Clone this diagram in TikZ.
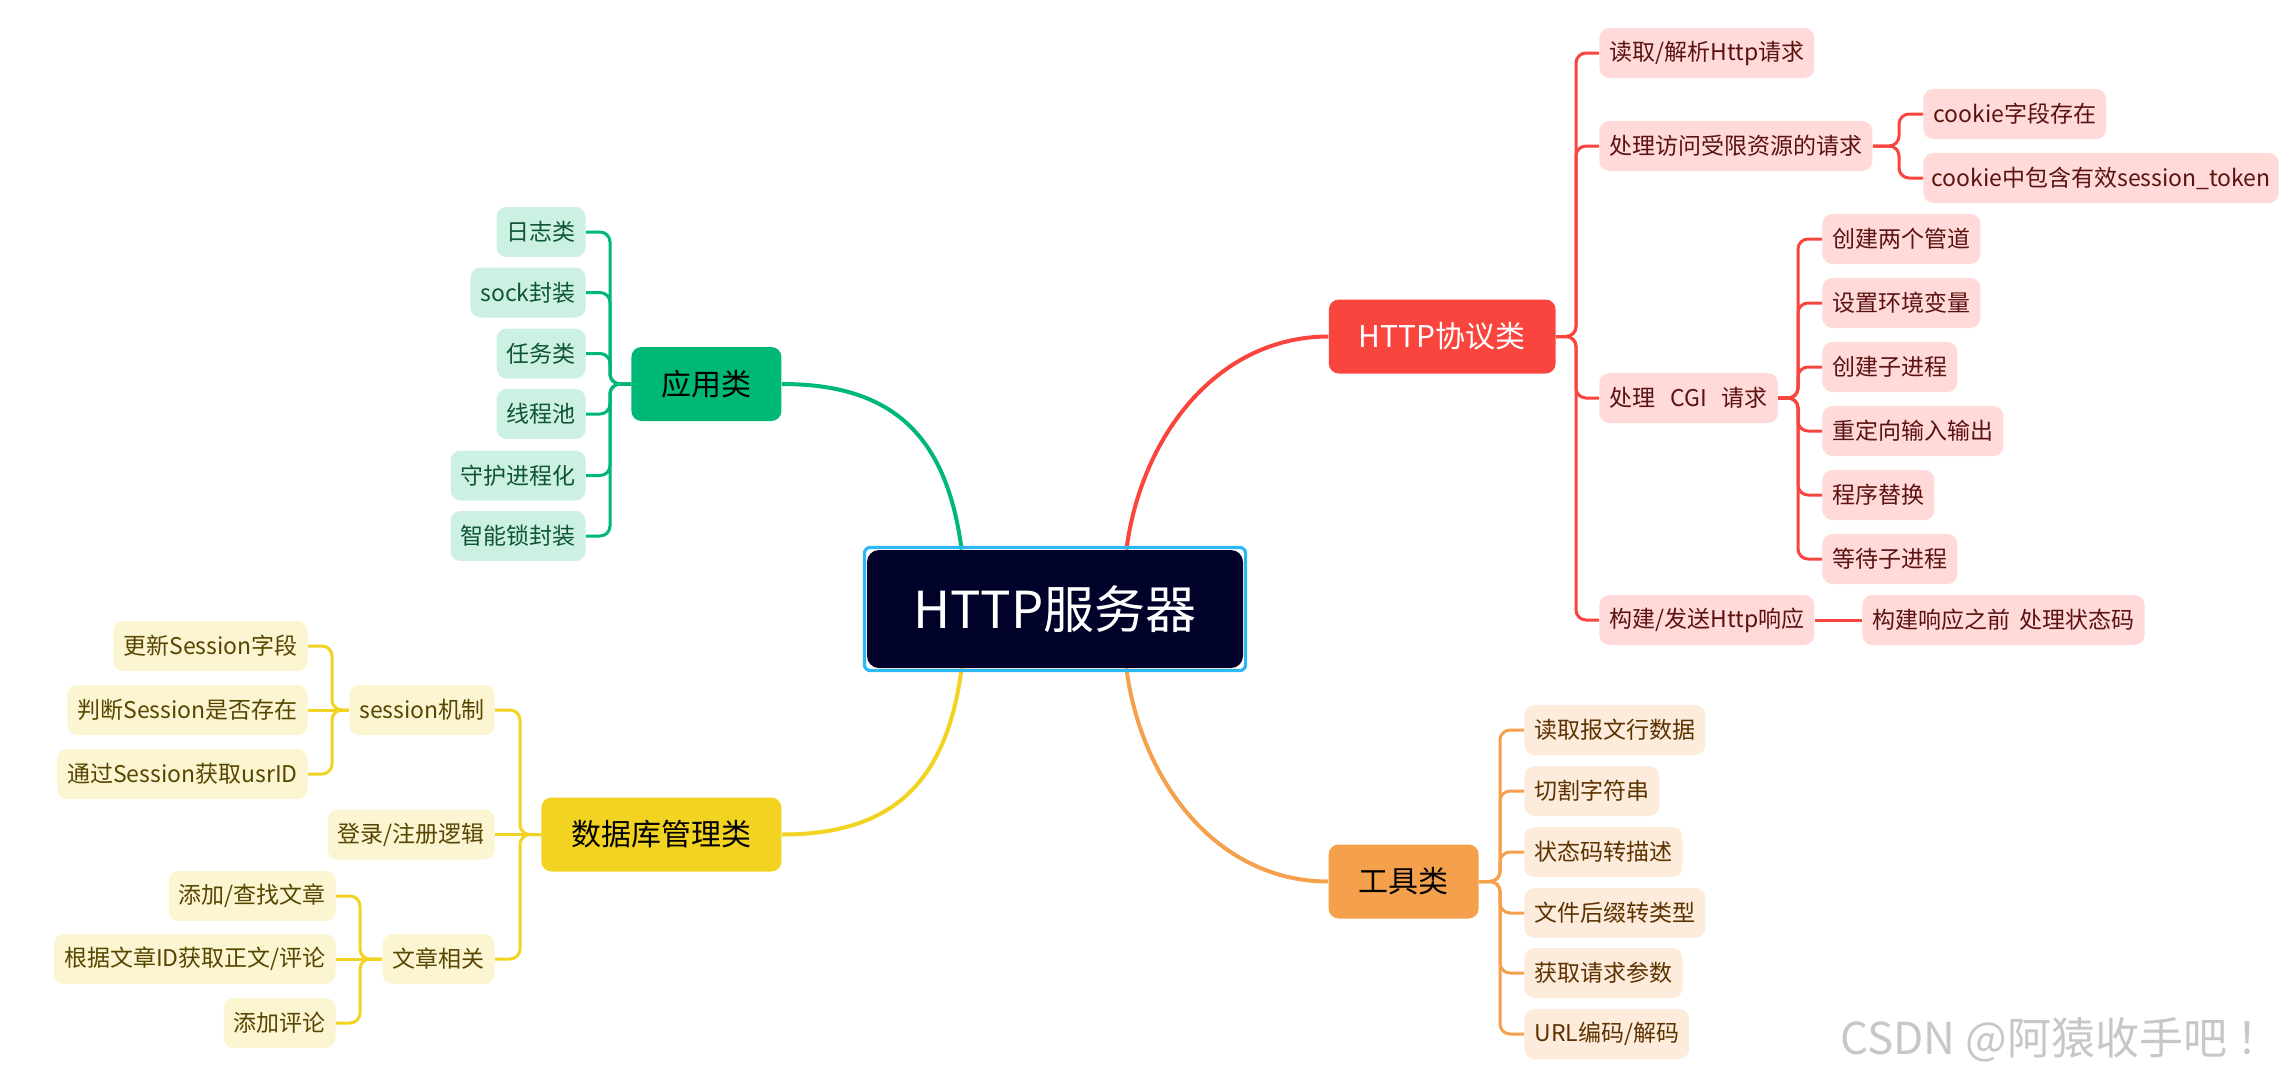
\documentclass[tikz,border=0pt]{standalone}
\usepackage{fontspec}
\setmainfont{Noto Sans CJK SC}
\usetikzlibrary{calc,fit,backgrounds}
\definecolor{gmain}{HTML}{00B876}
\definecolor{gleaf}{HTML}{CCF1E3}
\definecolor{gtext}{HTML}{0E5535}
\definecolor{rmain}{HTML}{FA443E}
\definecolor{rleaf}{HTML}{FFDAD8}
\definecolor{rtext}{HTML}{5B1210}
\definecolor{ymain}{HTML}{F2D321}
\definecolor{yleaf}{HTML}{FCF5D2}
\definecolor{ytext}{HTML}{574600}
\definecolor{omain}{HTML}{F5A04C}
\definecolor{oleaf}{HTML}{FDEBDB}
\definecolor{otext}{HTML}{5C3300}
\definecolor{navy}{HTML}{00022A}
\definecolor{rootborder}{HTML}{2DB8F5}
\begin{document}
\begin{tikzpicture}[x=0.5pt,y=-0.5pt,
  branchbox/.style={rounded corners=5pt, minimum height=37pt, inner xsep=15pt, inner ysep=0pt, font=\fontsize{15pt}{18pt}\selectfont},
  leafbox/.style={rounded corners=5pt, minimum height=25pt, inner xsep=5pt, inner ysep=0pt, font=\fontsize{11.5pt}{14pt}\selectfont},
  gleafbox/.style={leafbox, fill=gleaf, text=gtext, anchor=east},
  rleafbox/.style={leafbox, fill=rleaf, text=rtext, anchor=west},
  yleafbox/.style={leafbox, fill=yleaf, text=ytext, anchor=east},
  oleafbox/.style={leafbox, fill=oleaf, text=otext, anchor=west},
  mainlink/.style={line width=2pt},
  sublink/.style={line width=1.5pt, rounded corners=5pt},
]
\useasboundingbox (0,0) rectangle (2286,1077);

% root
\node[fill=navy, text=white, rounded corners=6pt, minimum width=188pt, minimum height=59pt,
      font=\fontsize{25.5pt}{30pt}\selectfont] (root) at (1055,609) {HTTP服务器};
\node[fit=(root), inner sep=1.1pt, draw=rootborder, line width=1.6pt, rounded corners=3pt] (rootframe) {};

% branches
\node[branchbox, fill=gmain, text=black, anchor=west] (app) at (631,384) {应用类};
\node[branchbox, fill=rmain, text=white, anchor=east] (http) at (1556,336.5) {HTTP协议类};
\node[branchbox, fill=ymain, text=black, anchor=west] (db) at (541,834.5) {数据库管理类};
\node[branchbox, fill=omain, text=black, anchor=east] (tool) at (1479,881.5) {工具类};

% green leaves
\node[gleafbox] (g1) at (586,232) {日志类};
\node[gleafbox] (g2) at (586,292.5) {sock封装};
\node[gleafbox] (g3) at (586,353.5) {任务类};
\node[gleafbox] (g4) at (586,414) {线程池};
\node[gleafbox] (g5) at (586,475.5) {守护进程化};
\node[gleafbox] (g6) at (586,536) {智能锁封装};

% red leaves
\node[rleafbox] (r1) at (1599,53) {读取/解析Http请求};
\node[rleafbox] (r2) at (1599,146) {处理访问受限资源的请求};
\node[rleafbox] (r21) at (1923,114) {cookie字段存在};
\node[rleafbox, inner xsep=4pt] (r22) at (1923,178) {cookie中包含有效session\_token};
\node[rleafbox] (r3) at (1599,398) {处理\hspace{0.65em}CGI\hspace{0.65em}请求};
\node[rleafbox] (r31) at (1822,239) {创建两个管道};
\node[rleafbox] (r32) at (1822,303) {设置环境变量};
\node[rleafbox] (r33) at (1822,367) {创建子进程};
\node[rleafbox] (r34) at (1822,431) {重定向输入输出};
\node[rleafbox] (r35) at (1822,495) {程序替换};
\node[rleafbox] (r36) at (1822,559) {等待子进程};
\node[rleafbox] (r4) at (1599,620) {构建/发送Http响应};
\node[rleafbox] (r41) at (1862,620) {构建响应之前\hspace{0.4em}处理状态码};

% yellow leaves
\node[yleafbox] (sess) at (495,710) {session机制};
\node[yleafbox] (login) at (495,834.5) {登录/注册逻辑};
\node[yleafbox] (art) at (495,959) {文章相关};
\node[yleafbox] (y1) at (308,646) {更新Session字段};
\node[yleafbox] (y2) at (308,710) {判断Session是否存在};
\node[yleafbox] (y3) at (308,774) {通过Session获取usrID};
\node[yleafbox] (y4) at (336,896) {添加/查找文章};
\node[yleafbox] (y5) at (336,959) {根据文章ID获取正文/评论};
\node[yleafbox] (y6) at (336,1023) {添加评论};

% orange leaves
\node[oleafbox] (o1) at (1524,730) {读取报文行数据};
\node[oleafbox] (o2) at (1524,791) {切割字符串};
\node[oleafbox] (o3) at (1524,852) {状态码转描述};
\node[oleafbox] (o4) at (1524,913) {文件后缀转类型};
\node[oleafbox] (o5) at (1524,973) {获取请求参数};
\node[oleafbox] (o6) at (1524,1034) {URL编码/解码};

% watermark
\node[text=black!22, anchor=east, font=\fontsize{22pt}{26pt}\selectfont] (wm) at (2288,1040) {CSDN @阿猿收手吧 ！};

\begin{scope}[on background layer]
% main curves
\draw[mainlink, gmain] (app.east) .. controls +(110,0) and +(-15,-115) .. ($(root.north west)+(95,0)$);
\draw[mainlink, rmain] (http.west) .. controls +(-110,0) and +(15,-115) .. ($(root.north east)+(-117,0)$);
\draw[mainlink, ymain] (db.east) .. controls +(110,0) and +(-15,115) .. ($(root.south west)+(95,0)$);
\draw[mainlink, omain] (tool.west) .. controls +(-110,0) and +(15,115) .. ($(root.south east)+(-117,0)$);

% green links
\foreach \n in {g1,g2,g3,g4,g5,g6}
  \draw[sublink, gmain] (app.west) -- (610,384) |- (\n.east);

% red links
\foreach \n in {r1,r2,r3,r4}
  \draw[sublink, rmain] (http.east) -- (1576,336.5) |- (\n.west);
\foreach \n in {r21,r22}
  \draw[sublink, rmain] (r2.east) -- (1899,146) |- (\n.west);
\foreach \n in {r31,r32,r33,r34,r35,r36}
  \draw[sublink, rmain] (r3.east) -- (1798,398) |- (\n.west);
\draw[sublink, rmain] (r4.east) -- (r41.west);

% yellow links
\foreach \n in {sess,art}
  \draw[sublink, ymain] (db.west) -- (520,834.5) |- (\n.east);
\draw[sublink, ymain] (db.west) -- (login.east);
\foreach \n in {y1,y3}
  \draw[sublink, ymain] (sess.west) -- (332,710) |- (\n.east);
\draw[sublink, ymain] (sess.west) -- (y2.east);
\foreach \n in {y4,y6}
  \draw[sublink, ymain] (art.west) -- (360,959) |- (\n.east);
\draw[sublink, ymain] (art.west) -- (y5.east);

% orange links
\foreach \n in {o1,o2,o3,o4,o5,o6}
  \draw[sublink, omain] (tool.east) -- (1500,881.5) |- (\n.west);
\end{scope}
\end{tikzpicture}
\end{document}
